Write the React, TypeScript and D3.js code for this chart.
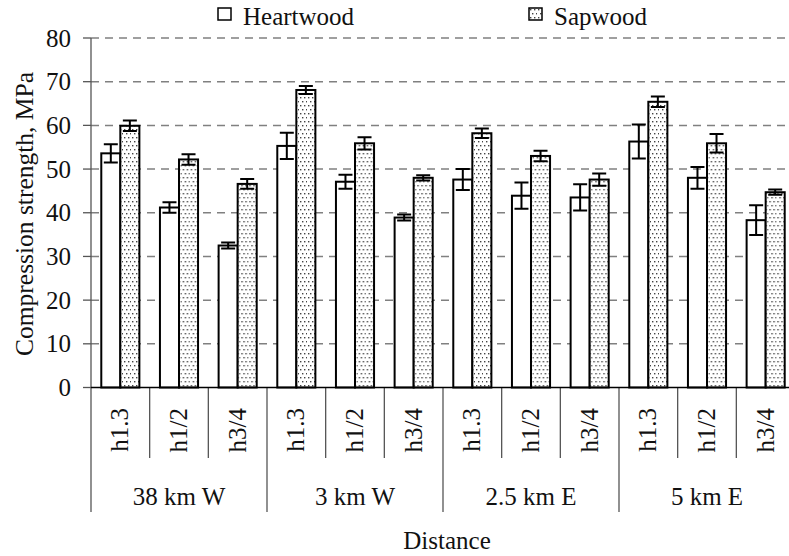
import React from "react";
import * as d3 from "d3";

// compression strength by distance from source and stem height
const groups = ["38 km W", "3 km W", "2.5 km E", "5 km E"];
const heights = ["h1.3", "h1/2", "h3/4"];
const series = ["Heartwood", "Sapwood"];

const heartwoodMean = [53.6, 41.2, 32.5, 55.3, 47.1, 38.9, 47.6, 43.9, 43.5, 56.3, 48.0, 38.3];
const heartwoodErr = [2.1, 1.2, 0.7, 3.0, 1.6, 0.7, 2.4, 3.0, 3.0, 3.9, 2.5, 3.4];
const sapwoodMean = [59.9, 52.2, 46.6, 68.1, 55.9, 48.0, 58.2, 53.0, 47.6, 65.4, 55.9, 44.7];
const sapwoodErr = [1.2, 1.2, 1.1, 0.9, 1.4, 0.6, 1.1, 1.2, 1.4, 1.2, 2.1, 0.6];

const yTicks = [0, 10, 20, 30, 40, 50, 60, 70, 80];

const FONT = "Liberation Serif";
const FS = 25;

const W = 789;
const H = 556;
const left = 91;
const right = 795; // plot runs a little past the picture edge, like the original
const y0 = 387.5;
const yTop = 38;

const subKeys = groups.flatMap((g) => heights.map((h) => `${g}|${h}`));
const rows = subKeys.map((key, i) => ({
  key,
  height: heights[i % 3],
  values: [
    { s: "Heartwood", mean: heartwoodMean[i], err: heartwoodErr[i] },
    { s: "Sapwood", mean: sapwoodMean[i], err: sapwoodErr[i] },
  ],
}));

const x0 = d3.scaleBand().domain(subKeys).range([left, right]).padding(0);
const x1 = d3.scaleBand().domain(series).range([0, x0.bandwidth()]).paddingInner(0).paddingOuter(0.54);
const xg = d3.scaleBand().domain(groups).range([left, right]).padding(0);
const y = d3.scaleLinear().domain([0, 80]).range([y0, yTop]);

const fillFor = (s: string) => (s === "Sapwood" ? "url(#dots)" : "#fff");

const App = () => {
  const cap = 7;
  const legendX = [218, 529];

  return (
    <div style={{ position: "absolute", left: 0, top: 0, background: "#fff" }}>
      <svg width={W} height={H} style={{ display: "block" }} fontFamily={FONT}>
        <defs>
          <pattern id="dots" patternUnits="userSpaceOnUse" width={8} height={8}>
            <rect width={8} height={8} fill="#fff" />
            {[[1, 1], [5, 1], [3, 5], [7, 5]].map(([px, py], i) => (
              <rect key={i} x={px} y={py} width={1.4} height={1.4} fill="#444" />
            ))}
          </pattern>
        </defs>

        {/* gridlines */}
        {yTicks.filter((t) => t > 0).map((t) => (
          <line key={t} x1={left} x2={right} y1={y(t)} y2={y(t)}
            stroke="#808080" strokeWidth={1.5} strokeDasharray="8,6" />
        ))}

        {/* y axis + ticks */}
        <line x1={left} x2={left} y1={yTop} y2={y0} stroke="#555" strokeWidth={1.3} />
        {yTicks.map((t) => (
          <g key={t} transform={`translate(0,${y(t)})`}>
            <line x1={left - 8} x2={left} stroke="#555" strokeWidth={1.3} />
            <text x={left - 20} dy="0.34em" textAnchor="end" fontSize={FS} fill="#111">{t}</text>
          </g>
        ))}

        {/* dividers below the axis */}
        {d3.range(0, subKeys.length + 1).map((i) => (
          <line key={i} x1={left + i * x0.step()} x2={left + i * x0.step()}
            y1={y0} y2={i % 3 === 0 ? 512 : 458} stroke="#555" strokeWidth={1.3} />
        ))}

        {/* bars with error bars */}
        {rows.map((r) => (
          <g key={r.key} transform={`translate(${x0(r.key)},0)`}>
            {r.values.map((v) => {
              const bx = x1(v.s)!;
              const cx = bx + x1.bandwidth() / 2;
              const hi = y(v.mean + v.err);
              const lo = y(v.mean - v.err);
              return (
                <g key={v.s}>
                  <rect x={bx} width={x1.bandwidth()} y={y(v.mean)} height={y0 - y(v.mean)}
                    fill={fillFor(v.s)} stroke="#000" strokeWidth={2} />
                  <path d={`M${cx},${hi}V${lo}M${cx - cap},${hi}H${cx + cap}M${cx - cap},${lo}H${cx + cap}`}
                    fill="none" stroke="#000" strokeWidth={2} />
                </g>
              );
            })}
          </g>
        ))}

        {/* x axis line */}
        <line x1={left} x2={right} y1={y0} y2={y0} stroke="#000" strokeWidth={1.5} />

        {/* height labels */}
        {rows.map((r) => (
          <text key={r.key} transform={`translate(${x0(r.key)! + x0.bandwidth() / 2 + 8},408) rotate(-90)`}
            textAnchor="end" fontSize={FS} fill="#111">{r.height}</text>
        ))}

        {/* distance labels */}
        {groups.map((g) => (
          <text key={g} x={xg(g)! + xg.bandwidth() / 2} y={505} textAnchor="middle" fontSize={FS} fill="#111">{g}</text>
        ))}

        <text x={447} y={549} textAnchor="middle" fontSize={FS} fill="#111">Distance</text>
        <text transform="translate(33,214) rotate(-90)" textAnchor="middle" fontSize={25.5} fill="#111">
          Compression strength, MPa
        </text>

        {/* legend */}
        {series.map((s, i) => (
          <g key={s} transform={`translate(${legendX[i]},8)`}>
            <rect width={13} height={12} fill={fillFor(s)} stroke="#000" strokeWidth={1.5} />
            <text x={25} y={17} fontSize={FS} fill="#111">{s}</text>
          </g>
        ))}
      </svg>
    </div>
  );
};

export default App;
